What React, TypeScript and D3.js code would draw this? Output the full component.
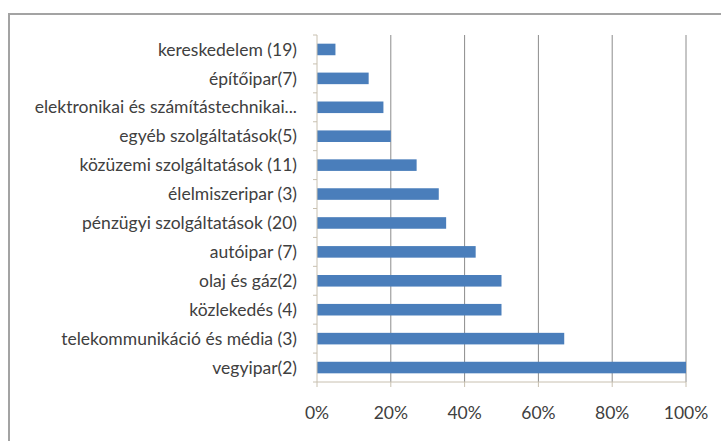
import { useEffect, useRef } from 'react';
import * as d3 from 'd3';

const categories = [
  'kereskedelem (19)',
  'építőipar(7)',
  'elektronikai és számítástechnikai...',
  'egyéb szolgáltatások(5)',
  'közüzemi szolgáltatások (11)',
  'élelmiszeripar (3)',
  'pénzügyi szolgáltatások (20)',
  'autóipar (7)',
  'olaj és gáz(2)',
  'közlekedés (4)',
  'telekommunikáció és média (3)',
  'vegyipar(2)',
];
const values = [0.05, 0.14, 0.18, 0.2, 0.27, 0.33, 0.35, 0.43, 0.5, 0.5, 0.67, 1.0];
const xTicks = [0, 0.2, 0.4, 0.6, 0.8, 1.0];

const W = 721;
const H = 441;

const App = () => {
  const svgRef = useRef<SVGSVGElement>(null);

  useEffect(() => {
    if (!svgRef.current) return;
    const svg = d3.select(svgRef.current);
    svg.selectAll('*').remove();

    const plot = { left: 317, right: 686, top: 35, bottom: 382 };
    const font = 'Lato, "Open Sans", sans-serif';

    svg.append('rect')
      .attr('x', 0).attr('y', 0).attr('width', W).attr('height', H)
      .attr('fill', '#fff');

    // outer chart border (runs off the right and bottom edges)
    svg.append('rect')
      .attr('x', 9).attr('y', 14).attr('width', W + 10).attr('height', H + 10)
      .attr('fill', 'none').attr('stroke', '#a3a3a3').attr('stroke-width', 2);

    const x = d3.scaleLinear().domain([0, 1]).range([plot.left, plot.right]);
    const y = d3.scaleBand<string>()
      .domain(categories)
      .range([plot.top, plot.bottom])
      .paddingInner(0.6)
      .paddingOuter(0.3);

    const band = (plot.bottom - plot.top) / categories.length;

    // gridlines
    svg.append('g')
      .selectAll('line')
      .data(xTicks.slice(1))
      .enter()
      .append('line')
      .attr('x1', d => x(d)).attr('x2', d => x(d))
      .attr('y1', plot.top).attr('y2', plot.bottom)
      .attr('stroke', '#8c8c8c').attr('stroke-width', 1);

    // bars
    svg.append('g')
      .selectAll('rect')
      .data(categories)
      .enter()
      .append('rect')
      .attr('x', x(0))
      .attr('y', d => y(d) as number)
      .attr('width', (d, i) => x(values[i]) - x(0))
      .attr('height', y.bandwidth())
      .attr('fill', '#4a7ebb');

    // axes
    svg.append('line')
      .attr('x1', x(0)).attr('x2', x(0))
      .attr('y1', plot.top).attr('y2', plot.bottom)
      .attr('stroke', '#c8c0b0');
    svg.append('line')
      .attr('x1', x(0)).attr('x2', x(1))
      .attr('y1', plot.bottom).attr('y2', plot.bottom)
      .attr('stroke', '#c8c0b0');

    // category ticks
    svg.append('g')
      .selectAll('line')
      .data(d3.range(categories.length + 1))
      .enter()
      .append('line')
      .attr('x1', x(0) - 4).attr('x2', x(0))
      .attr('y1', i => plot.top + i * band).attr('y2', i => plot.top + i * band)
      .attr('stroke', '#c8c0b0');

    // value ticks
    svg.append('g')
      .selectAll('line')
      .data(xTicks)
      .enter()
      .append('line')
      .attr('x1', d => x(d)).attr('x2', d => x(d))
      .attr('y1', plot.bottom).attr('y2', plot.bottom + 5)
      .attr('stroke', '#c8c0b0');

    // category labels
    svg.append('g')
      .selectAll('text')
      .data(categories)
      .enter()
      .append('text')
      .attr('x', x(0) - 20)
      .attr('y', d => (y(d) as number) + y.bandwidth() / 2)
      .attr('dy', '0.35em')
      .attr('text-anchor', 'end')
      .attr('font-family', font)
      .attr('font-size', 17.5)
      .attr('fill', '#404040')
      .text(d => d);

    // value labels
    svg.append('g')
      .selectAll('text')
      .data(xTicks)
      .enter()
      .append('text')
      .attr('x', d => x(d))
      .attr('y', 413)
      .attr('dy', '0.35em')
      .attr('text-anchor', 'middle')
      .attr('font-family', font)
      .attr('font-size', 17.5)
      .attr('fill', '#404040')
      .text(d => d3.format('.0%')(d));
  }, []);

  return (
    <svg
      ref={svgRef}
      width={W}
      height={H}
      style={{ position: 'absolute', left: 0, top: 0, display: 'block' }}
    />
  );
};

export default App;
